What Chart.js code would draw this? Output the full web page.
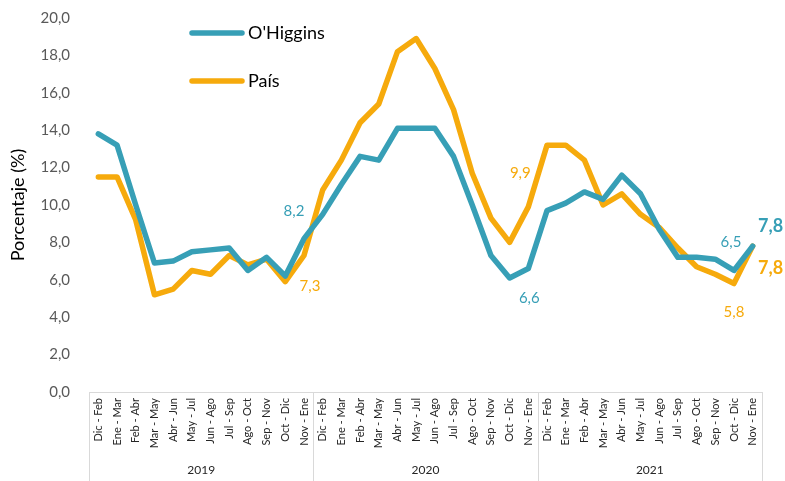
<!DOCTYPE html>
<html>
<head>
<meta charset="utf-8">
<script src="https://cdn.jsdelivr.net/npm/chart.js@4.4.1/dist/chart.umd.min.js"></script>
<style>
  html, body { margin: 0; padding: 0; background: #fff; }
  #wrap { width: 785px; height: 481px; }
</style>
</head>
<body>
<div id="wrap"><canvas id="chart"></canvas></div>
<script>
// ── Data ──
const months = ['Dic - Feb', 'Ene - Mar', 'Feb - Abr', 'Mar - May', 'Abr - Jun', 'May - Jul',
  'Jun - Ago', 'Jul - Sep', 'Ago - Oct', 'Sep - Nov', 'Oct - Dic', 'Nov - Ene'];
const years = ['2019', '2020', '2021'];
const categories = years.flatMap(() => months);

const ohiggins = [13.8, 13.2, 10.0, 6.9, 7.0, 7.5, 7.6, 7.7, 6.5, 7.2, 6.2, 8.2,
  9.5, 11.1, 12.6, 12.4, 14.1, 14.1, 14.1, 12.6, 10.0, 7.3, 6.1, 6.6,
  9.7, 10.1, 10.7, 10.3, 11.6, 10.6, 8.7, 7.2, 7.2, 7.1, 6.5, 7.8];
const pais = [11.5, 11.5, 9.2, 5.2, 5.5, 6.5, 6.3, 7.3, 6.8, 7.1, 5.9, 7.3,
  10.8, 12.4, 14.4, 15.4, 18.2, 18.9, 17.3, 15.1, 11.7, 9.3, 8.0, 9.9,
  13.2, 13.2, 12.4, 10.0, 10.6, 9.5, 8.8, 7.7, 6.7, 6.3, 5.8, 7.8];

const TEAL = '#379FB6';
const ORANGE = '#F6AA0C';
const FONT = "Lato, 'Open Sans', sans-serif";

const fmt = v => v.toFixed(1).replace('.', ',');

// value labels: dataset, index, offset from point
const pointLabels = [
  { ds: 0, i: 11, dx: -10, dy: -28 },
  { ds: 1, i: 11, dx: 6, dy: 31 },
  { ds: 0, i: 23, dx: 1, dy: 30 },
  { ds: 1, i: 23, dx: -8, dy: -34 },
  { ds: 0, i: 34, dx: -3, dy: -28 },
  { ds: 1, i: 34, dx: 0, dy: 29 },
  { ds: 0, i: 35, dx: 18, dy: -20, bold: true },
  { ds: 1, i: 35, dx: 18, dy: 22, bold: true },
];

// legend drawn inside the plot
const legendPlugin = {
  id: 'insideLegend',
  afterDraw(chart) {
    const { ctx } = chart;
    const rows = [33, 81];
    ctx.save();
    chart.data.datasets.forEach((ds, k) => {
      const y = rows[k];
      ctx.strokeStyle = ds.borderColor;
      ctx.lineWidth = 5.5;
      ctx.lineCap = 'round';
      ctx.beginPath();
      ctx.moveTo(192, y);
      ctx.lineTo(242, y);
      ctx.stroke();
      ctx.fillStyle = '#000';
      ctx.font = `18px ${FONT}`;
      ctx.textBaseline = 'middle';
      ctx.textAlign = 'left';
      ctx.fillText(ds.label, 248, y);
    });
    ctx.restore();
  }
};

// data labels
const labelPlugin = {
  id: 'pointLabels',
  afterDatasetsDraw(chart) {
    const { ctx } = chart;
    ctx.save();
    ctx.textAlign = 'center';
    ctx.textBaseline = 'middle';
    pointLabels.forEach(l => {
      const meta = chart.getDatasetMeta(l.ds);
      const pt = meta.data[l.i];
      const ds = chart.data.datasets[l.ds];
      ctx.fillStyle = ds.borderColor;
      ctx.font = l.bold ? `bold 18px ${FONT}` : `15px ${FONT}`;
      ctx.fillText(fmt(ds.data[l.i]), pt.x + l.dx, pt.y + l.dy);
    });
    ctx.restore();
  }
};

// year groups and frame under the category axis
const groupPlugin = {
  id: 'yearGroups',
  afterDraw(chart) {
    const { ctx, chartArea } = chart;
    const x = chart.scales.x;
    const bottom = chart.height;
    const half = (x.getPixelForValue(1) - x.getPixelForValue(0)) / 2;
    ctx.save();
    ctx.strokeStyle = '#D9D9D9';
    ctx.lineWidth = 1;
    const edges = [chartArea.left];
    years.forEach((y, g) => {
      edges.push(x.getPixelForValue(g * months.length + months.length - 1) + half);
    });
    edges.forEach(px => {
      ctx.beginPath();
      ctx.moveTo(Math.round(px) + 0.5, chartArea.bottom);
      ctx.lineTo(Math.round(px) + 0.5, bottom);
      ctx.stroke();
    });
    ctx.fillStyle = '#262626';
    ctx.font = `12px ${FONT}`;
    ctx.textAlign = 'center';
    ctx.textBaseline = 'middle';
    years.forEach((y, g) => {
      const cx = (edges[g] + edges[g + 1]) / 2;
      ctx.fillText(y, cx, 470);
    });
    ctx.restore();
  }
};

new Chart(document.getElementById('chart'), {
  type: 'line',
  data: {
    labels: categories,
    datasets: [
      { label: "O'Higgins", data: ohiggins, borderColor: TEAL, backgroundColor: TEAL,
        borderWidth: 5.5, pointRadius: 0, tension: 0, borderJoinStyle: 'round', borderCapStyle: 'round' },
      { label: 'País', data: pais, borderColor: ORANGE, backgroundColor: ORANGE,
        borderWidth: 5.5, pointRadius: 0, tension: 0, borderJoinStyle: 'round', borderCapStyle: 'round' },
    ],
  },
  options: {
    responsive: true,
    maintainAspectRatio: false,
    animation: false,
    layout: { padding: { top: 18, right: 23, left: 0, bottom: 0 } },
    plugins: { legend: { display: false }, tooltip: { enabled: false } },
    scales: {
      x: {
        offset: true,
        grid: { display: false, drawTicks: false },
        border: { display: true, color: '#D9D9D9', width: 1 },
        ticks: {
          autoSkip: false, maxRotation: 90, minRotation: 90, padding: 6,
          color: '#262626', font: { family: FONT, size: 11 },
        },
        afterFit: s => { s.height = 89; s.paddingLeft = 0; s.paddingRight = 0; },
      },
      y: {
        min: 0, max: 20,
        grid: { display: false, drawTicks: false },
        border: { display: false },
        ticks: {
          stepSize: 2, padding: 19, color: '#595959',
          font: { family: FONT, size: 15 },
          callback: v => fmt(v),
        },
        title: {
          display: true, text: 'Porcentaje (%)', color: '#000',
          font: { family: FONT, size: 18 }, padding: { top: 7, bottom: 0 },
        },
        afterFit: s => { s.width = 89; s.paddingTop = 0; s.paddingBottom = 0; },
      },
    },
  },
  plugins: [legendPlugin, labelPlugin, groupPlugin],
});
</script>
</body>
</html>
